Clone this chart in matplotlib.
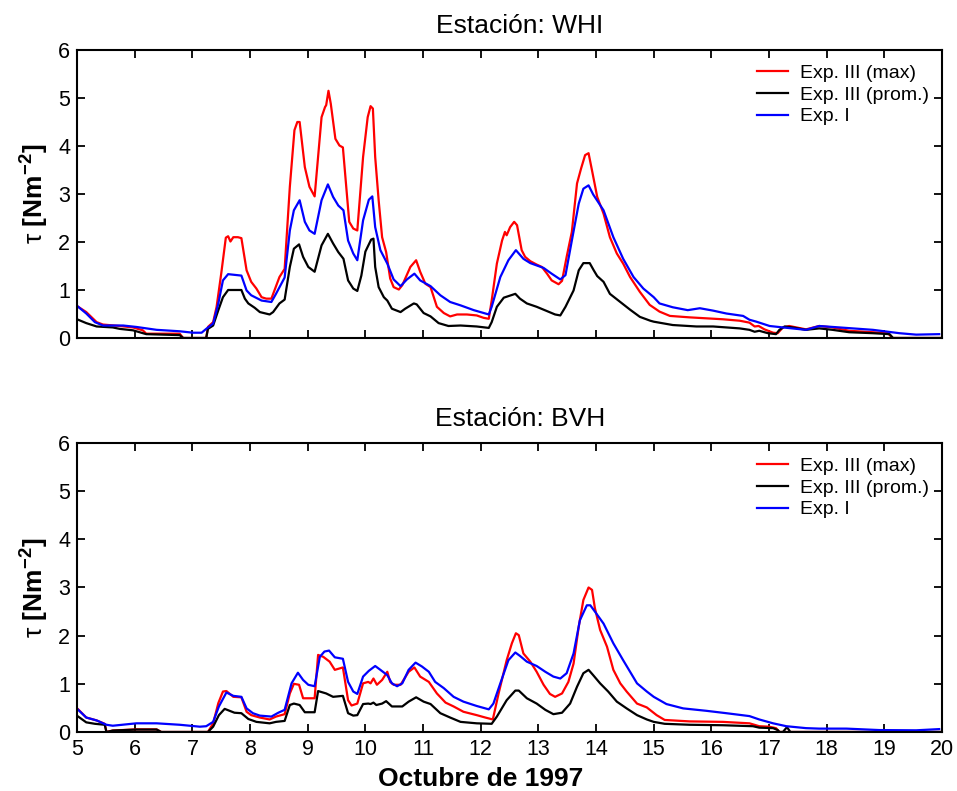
import matplotlib
matplotlib.use("Agg")
import matplotlib.pyplot as plt

plt.rcParams["font.family"] = ["Liberation Sans", "DejaVu Sans"]
plt.rcParams["mathtext.fontset"] = "custom"
plt.rcParams["mathtext.rm"] = "Liberation Sans"
plt.rcParams["mathtext.bf"] = "Liberation Sans:bold"
plt.rcParams["mathtext.it"] = "Liberation Sans:italic"

# ---------- datos (día de octubre 1997, tau en N m^-2) ----------
labels = ["Exp. III (max)", "Exp. III (prom.)", "Exp. I"]
colors = ["#ff0000", "#000000", "#0000ff"]
day_ticks = list(range(5, 21))
tau_ticks = list(range(0, 7))

# Estación WHI
whi_max_x = [5.02, 5.16, 5.34, 5.45, 5.74, 5.97, 6.14, 6.2, 6.78, 6.84, 7.24, 7.27, 7.36, 7.42, 7.5,
             7.58, 7.62, 7.66, 7.71, 7.79, 7.85, 7.94, 8.02, 8.11, 8.2, 8.28, 8.37, 8.51, 8.6, 8.69,
             8.77, 8.82, 8.86, 8.95, 9.03, 9.12, 9.24, 9.3, 9.32, 9.36, 9.4, 9.48, 9.55, 9.61, 9.72,
             9.79, 9.86, 9.96, 10.04, 10.09, 10.13, 10.17, 10.23, 10.29, 10.36, 10.43, 10.49, 10.58,
             10.64, 10.78, 10.88, 10.95, 11.04, 11.13, 11.24, 11.36, 11.47, 11.59, 11.76, 11.93, 12.05,
             12.14, 12.19, 12.28, 12.37, 12.42, 12.45, 12.51, 12.58, 12.63, 12.71, 12.77, 12.86, 12.97,
             13.06, 13.15, 13.23, 13.35, 13.41, 13.49, 13.58, 13.67, 13.74, 13.81, 13.87, 13.93, 14.02,
             14.13, 14.24, 14.36, 14.47, 14.59, 14.76, 14.93, 15.1, 15.28, 15.62, 15.91, 16.2, 16.49,
             16.66, 16.75, 16.82, 16.92, 17.07, 17.15, 17.24, 17.35, 17.64, 17.87, 18.1, 18.39, 18.8,
             19.06, 19.14, 20.0]
whi_max_y = [0.65, 0.54, 0.33, 0.28, 0.25, 0.22, 0.16, 0.09, 0.09, 0.0, 0.0, 0.23, 0.33, 0.65, 1.34,
             2.09, 2.12, 2.01, 2.1, 2.1, 2.08, 1.41, 1.17, 1.03, 0.85, 0.82, 0.82, 1.27, 1.44, 3.15,
             4.33, 4.5, 4.5, 3.56, 3.15, 2.95, 4.6, 4.81, 4.85, 5.15, 4.88, 4.15, 4.01, 3.97, 2.42,
             2.28, 2.24, 3.77, 4.6, 4.83, 4.78, 3.77, 2.87, 2.1, 1.79, 1.24, 1.06, 1.01,
             1.1, 1.48, 1.62, 1.38, 1.13, 1.06, 0.65, 0.52, 0.45, 0.49, 0.49, 0.47, 0.42,
             0.40, 0.78, 1.55, 2.03, 2.21, 2.14, 2.31, 2.42, 2.35, 1.83, 1.69, 1.6, 1.53,
             1.48, 1.34, 1.2, 1.12, 1.19, 1.69, 2.21, 3.22, 3.53, 3.81, 3.85, 3.49, 2.94,
             2.59, 2.1, 1.76, 1.55, 1.27, 0.96, 0.69, 0.55, 0.46, 0.43, 0.41, 0.39, 0.36,
             0.32, 0.24, 0.25, 0.18, 0.11, 0.1, 0.22, 0.25, 0.18, 0.25, 0.22, 0.15, 0.12,
             0.1, 0.0, 0.0]

whi_prom_x = [5.02, 5.16, 5.34, 5.62, 5.74, 5.97, 6.2, 6.78, 6.84, 7.24, 7.27, 7.36, 7.45, 7.53, 7.62,
              7.85, 7.91, 7.97, 8.08, 8.17, 8.34, 8.4, 8.51, 8.6, 8.69, 8.76, 8.85, 8.92, 9.01, 9.12,
              9.24, 9.35, 9.44, 9.53, 9.62, 9.7, 9.79, 9.86, 9.93, 10.0, 10.1, 10.14, 10.17, 10.23,
              10.32, 10.38, 10.46, 10.61, 10.69, 10.84, 10.89, 11.01, 11.13, 11.27, 11.44, 11.65,
              11.93, 12.14, 12.19, 12.28, 12.4, 12.6, 12.68, 12.8, 12.97, 13.15, 13.29, 13.38, 13.47,
              13.61, 13.7, 13.78, 13.89, 13.96, 14.02, 14.13, 14.24, 14.42, 14.59, 14.76, 14.94, 15.0,
              15.33, 15.74, 16.03, 16.49, 16.66, 16.75, 16.83, 16.98, 17.12, 17.18, 17.27, 17.41,
              17.64, 17.87, 18.1, 18.39, 18.8, 19.09, 19.15, 20.0]
whi_prom_y = [0.38, 0.31, 0.24, 0.22, 0.19, 0.16, 0.08, 0.06, 0.0, 0.0, 0.19, 0.26, 0.58, 0.85, 1.0,
              1.0, 0.82, 0.72, 0.63, 0.54, 0.49, 0.54, 0.72, 0.8, 1.48, 1.86, 1.95, 1.69, 1.48, 1.38,
              1.93, 2.17, 1.97, 1.79, 1.65, 1.2, 1.03, 0.98, 1.3, 1.8, 2.05, 2.07, 1.48, 1.06,
              0.85, 0.78, 0.61, 0.54, 0.61, 0.72, 0.7, 0.52, 0.45, 0.31, 0.25, 0.26,
              0.24, 0.21, 0.33, 0.65, 0.84, 0.92, 0.82, 0.72, 0.65, 0.56, 0.49, 0.47, 0.65,
              0.99, 1.41, 1.56, 1.56, 1.41, 1.29, 1.17, 0.92, 0.75, 0.59, 0.44, 0.36, 0.34,
              0.27, 0.24, 0.24, 0.2, 0.17, 0.13, 0.15, 0.1, 0.08, 0.17, 0.24, 0.22,
              0.17, 0.2, 0.17, 0.12, 0.1, 0.08, 0.0, 0.0]

whi_exp1_x = [5.02, 5.16, 5.31, 5.45, 5.8, 6.03, 6.38, 6.78, 7.01, 7.16, 7.24, 7.36, 7.45, 7.53, 7.62,
              7.85, 7.94, 8.02, 8.2, 8.37, 8.45, 8.6, 8.69, 8.76, 8.86, 8.95, 9.03, 9.12, 9.24, 9.35,
              9.44, 9.53, 9.62, 9.7, 9.79, 9.86, 9.96, 10.06, 10.12, 10.17, 10.26, 10.38, 10.49, 10.61,
              10.72, 10.85, 10.95, 11.13, 11.3, 11.47, 11.65, 11.88, 12.14, 12.19, 12.34, 12.48, 12.61,
              12.74, 12.86, 13.09, 13.23, 13.38, 13.47, 13.58, 13.7, 13.78, 13.87, 13.95, 14.13, 14.3,
              14.47, 14.65, 14.82, 15.0, 15.1, 15.33, 15.59, 15.8, 16.03, 16.26, 16.55, 16.66, 16.78,
              17.01, 17.24, 17.64, 17.87, 18.22, 18.8, 19.26, 19.55, 19.95]
whi_exp1_y = [0.65, 0.51, 0.33, 0.26, 0.26, 0.23, 0.17, 0.14, 0.11, 0.11, 0.19, 0.3, 0.72, 1.2, 1.33,
              1.3, 0.99, 0.89, 0.78, 0.75, 0.92, 1.26, 2.24, 2.66, 2.87, 2.42, 2.24, 2.17, 2.87, 3.2,
              2.94, 2.76, 2.66, 2.03, 1.76, 1.62, 2.45, 2.88, 2.95, 2.31, 1.83, 1.55, 1.22, 1.08,
              1.22, 1.34, 1.2, 1.08, 0.89, 0.75, 0.68, 0.58, 0.49, 0.65, 1.27, 1.62, 1.83,
              1.65, 1.56, 1.46, 1.34, 1.22, 1.31, 2.03, 2.8, 3.11, 3.18, 2.99, 2.66, 2.1,
              1.65, 1.27, 1.03, 0.85, 0.72, 0.64, 0.58, 0.62, 0.57, 0.51, 0.46, 0.38, 0.34,
              0.25, 0.22, 0.17, 0.25, 0.22, 0.17, 0.1, 0.07, 0.08]

# Estación BVH
bvh_max_x = [5.02, 5.16, 5.34, 5.48, 5.51, 5.62, 6.03, 6.38, 6.46, 7.27, 7.36, 7.45, 7.53, 7.59, 7.71,
             7.85, 7.94, 8.02, 8.17, 8.34, 8.45, 8.6, 8.69, 8.76, 8.85, 8.92, 9.12, 9.18, 9.27, 9.38,
             9.47, 9.61, 9.7, 9.76, 9.86, 9.96, 10.05, 10.09, 10.14, 10.2, 10.29, 10.38, 10.43, 10.49,
             10.61, 10.75, 10.85, 10.95, 11.1, 11.24, 11.39, 11.53, 11.7, 11.93, 12.08, 12.21, 12.31,
             12.45, 12.54, 12.61, 12.66, 12.74, 12.86, 12.97, 13.09, 13.2, 13.29, 13.41, 13.52, 13.61,
             13.7, 13.78, 13.87, 13.93, 13.98, 14.07, 14.19, 14.3, 14.42, 14.53, 14.71, 14.88, 15.05,
             15.19, 15.62, 16.2, 16.66, 16.83, 17.0, 17.12, 17.18, 20.0]
bvh_max_y = [0.47, 0.3, 0.24, 0.17, 0.0, 0.03, 0.055, 0.055, 0.0, 0.0, 0.18, 0.6, 0.84, 0.85, 0.73,
             0.72, 0.42, 0.35, 0.3, 0.26, 0.32, 0.37, 0.8, 1.0, 0.98, 0.7, 0.7, 1.6, 1.56, 1.46,
             1.29, 1.34, 0.66, 0.55, 0.59, 1.01, 1.04, 1.01, 1.11, 0.98, 1.08, 1.25, 1.04, 0.98,
             0.98, 1.25, 1.34, 1.15, 1.04, 0.8, 0.61, 0.53, 0.42, 0.35, 0.3, 0.26, 0.8,
             1.49, 1.84, 2.05, 2.01, 1.63, 1.46, 1.25, 0.98, 0.79, 0.73, 0.8, 1.04, 1.42,
             2.19, 2.74, 3.0, 2.95, 2.57, 2.12, 1.77, 1.29, 1.01, 0.84, 0.59, 0.51, 0.35,
             0.25, 0.22, 0.21, 0.18, 0.12, 0.11, 0.08, 0.0, 0.0]

bvh_prom_x = [5.02, 5.16, 5.31, 5.48, 5.51, 5.62, 6.03, 6.38, 6.46, 7.27, 7.36, 7.46, 7.56, 7.73, 7.85,
              7.97, 8.11, 8.34, 8.45, 8.6, 8.69, 8.76, 8.86, 8.95, 9.12, 9.18, 9.32, 9.44, 9.61, 9.7,
              9.79, 9.86, 9.96, 10.05, 10.09, 10.14, 10.19, 10.29, 10.36, 10.46, 10.64, 10.75, 10.88,
              11.01, 11.13, 11.3, 11.47, 11.65, 11.93, 12.19, 12.28, 12.45, 12.6, 12.66, 12.8, 12.97,
              13.12, 13.26, 13.41, 13.55, 13.67, 13.78, 13.87, 13.95, 14.07, 14.21, 14.36, 14.53, 14.71,
              14.88, 15.0, 15.19, 15.62, 16.2, 16.72, 16.83, 17.07, 17.15, 17.18, 17.24, 17.31, 17.37,
              20.0]
bvh_prom_y = [0.32, 0.2, 0.17, 0.15, 0.0, 0.03, 0.05, 0.05, 0.0, 0.0, 0.11, 0.35, 0.48, 0.4, 0.39,
              0.27, 0.21, 0.18, 0.21, 0.23, 0.56, 0.59, 0.56, 0.41, 0.41, 0.85, 0.8, 0.73, 0.75, 0.39,
              0.34, 0.35, 0.58, 0.59, 0.58, 0.61, 0.56, 0.59, 0.64, 0.53, 0.53, 0.63, 0.72,
              0.63, 0.58, 0.39, 0.3, 0.21, 0.18, 0.17, 0.32, 0.66, 0.86, 0.86, 0.7, 0.59,
              0.46, 0.37, 0.4, 0.59, 0.94, 1.22, 1.29, 1.18, 1.01, 0.84, 0.63, 0.49, 0.35,
              0.26, 0.21, 0.17, 0.15, 0.14, 0.12, 0.09, 0.08, 0.04, 0.0, 0.0, 0.1, 0.0,
              0.0]

bvh_exp1_x = [5.02, 5.16, 5.34, 5.51, 5.62, 6.03, 6.38, 6.78, 7.13, 7.24, 7.36, 7.46, 7.59, 7.71, 7.85,
              7.94, 8.05, 8.17, 8.37, 8.49, 8.6, 8.72, 8.83, 8.92, 9.01, 9.12, 9.21, 9.29, 9.37, 9.47,
              9.61, 9.7, 9.79, 9.86, 9.96, 10.06, 10.17, 10.26, 10.38, 10.46, 10.55, 10.64, 10.75, 10.87,
              10.98, 11.1, 11.21, 11.36, 11.53, 11.7, 11.93, 12.14, 12.22, 12.34, 12.48, 12.6, 12.68,
              12.8, 12.97, 13.12, 13.26, 13.38, 13.49, 13.61, 13.72, 13.84, 13.9, 13.98, 14.13, 14.3,
              14.47, 14.71, 14.88, 15.0, 15.22, 15.51, 15.91, 16.26, 16.66, 16.83, 17.07, 17.3, 17.64,
              17.87, 18.34, 18.91, 19.55, 19.95]
bvh_exp1_y = [0.46, 0.3, 0.24, 0.15, 0.13, 0.18, 0.18, 0.15, 0.11, 0.12, 0.21, 0.53, 0.82, 0.75, 0.73,
              0.49, 0.39, 0.34, 0.32, 0.4, 0.46, 1.01, 1.23, 1.08, 0.98, 0.95, 1.56, 1.67, 1.69, 1.55,
              1.52, 1.04, 0.84, 0.79, 1.15, 1.27, 1.37, 1.29, 1.18, 1.01, 0.95, 1.01, 1.29, 1.44,
              1.36, 1.25, 1.04, 0.91, 0.73, 0.63, 0.54, 0.47, 0.59, 1.01, 1.49, 1.65, 1.58,
              1.46, 1.37, 1.25, 1.15, 1.11, 1.22, 1.63, 2.32, 2.63, 2.63, 2.5, 2.25, 1.84,
              1.49, 1.01, 0.84, 0.73, 0.58, 0.49, 0.44, 0.39, 0.33, 0.26, 0.18, 0.12, 0.08,
              0.07, 0.07, 0.04, 0.035, 0.06]

# ---------- figura ----------
fig = plt.figure(figsize=(9.57, 7.91), dpi=100)
ax_top = fig.add_axes([0.0805, 0.5727, 0.9039, 0.3641])
ax_bot = fig.add_axes([0.0805, 0.0746, 0.9039, 0.3654])

panels = [
    (ax_top, "Estación: WHI", [(whi_max_x, whi_max_y), (whi_prom_x, whi_prom_y), (whi_exp1_x, whi_exp1_y)]),
    (ax_bot, "Estación: BVH", [(bvh_max_x, bvh_max_y), (bvh_prom_x, bvh_prom_y), (bvh_exp1_x, bvh_exp1_y)]),
]

for ax, title, series in panels:
    for (xs, ys), lab, col in zip(series, labels, colors):
        ax.plot(xs, ys, color=col, linewidth=1.6, label=lab)
    ax.set_xlim(5, 20)
    ax.set_ylim(0, 6)
    ax.set_xticks(day_ticks)
    ax.set_yticks(tau_ticks)
    ax.tick_params(direction="in", top=True, right=True, length=6, width=1.3,
                   labelsize=15.5, pad=5)
    for sp in ax.spines.values():
        sp.set_linewidth(1.5)
    ax.set_title(title, fontsize=19, pad=12, x=0.512)
    ax.set_ylabel(r"$\mathrm{\tau}$ [Nm$^{\mathbf{-2}}$]", fontsize=19, fontweight="bold", labelpad=5)
    ax.legend(loc="upper left", bbox_to_anchor=(0.775, 0.985), frameon=False, fontsize=14,
              handlelength=1.6, handletextpad=0.6, labelspacing=0.22, borderpad=0)

ax_top.tick_params(labelbottom=False)
ax_bot.set_xlabel("Octubre de 1997", fontsize=19, fontweight="bold")
ax_bot.xaxis.set_label_coords(0.466, -0.122)

fig.savefig("out.png", dpi=100)
